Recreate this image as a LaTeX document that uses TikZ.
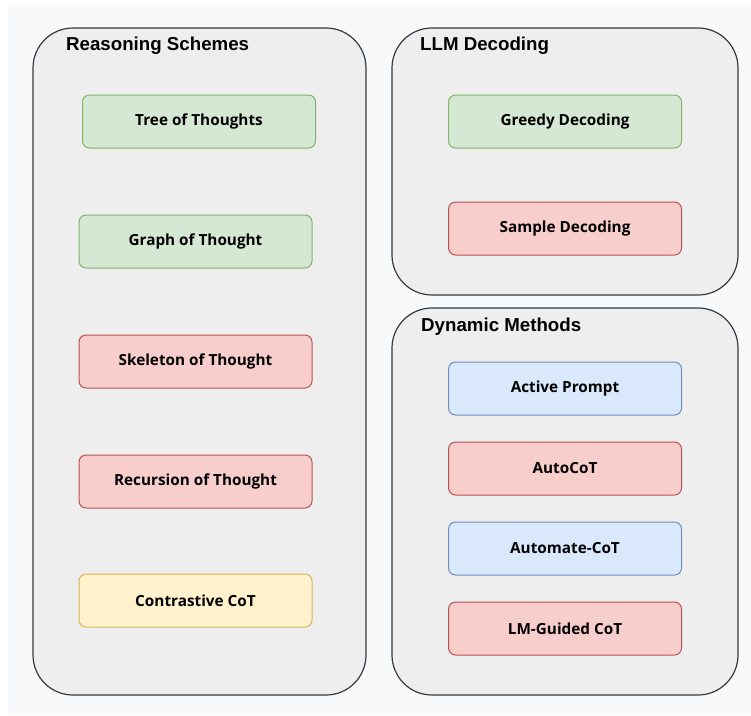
\documentclass[tikz,border=0pt]{standalone}
\usepackage{fontspec}
\setmainfont{Open Sans}
\newfontfamily\titlefont{Liberation Sans}
\usetikzlibrary{positioning}
\definecolor{bgcol}{HTML}{F8F9FB}
\definecolor{groupfill}{HTML}{EEEEEE}
\definecolor{groupline}{HTML}{36393D}
\definecolor{greenfill}{HTML}{D5E8D4}
\definecolor{greenline}{HTML}{82B366}
\definecolor{redfill}{HTML}{F8CECC}
\definecolor{redline}{HTML}{B85450}
\definecolor{yellowfill}{HTML}{FFF2CC}
\definecolor{yellowline}{HTML}{D6B656}
\definecolor{bluefill}{HTML}{DAE8FC}
\definecolor{blueline}{HTML}{6C8EBF}
\tikzset{
  group/.style={draw=groupline,fill=groupfill,line width=1.2pt,rounded corners=40pt},
  grouptitle/.style={anchor=west,font=\titlefont\fontsize{18.7}{21}\selectfont\bfseries,inner sep=0pt},
  method/.style={rectangle,rounded corners=7pt,line width=1pt,minimum width=233pt,minimum height=53pt,
    font=\fontsize{15.3}{18}\selectfont\bfseries,inner sep=0pt,outer sep=0pt},
  good/.style={method,fill=greenfill,draw=greenline},
  bad/.style={method,fill=redfill,draw=redline},
  mid/.style={method,fill=yellowfill,draw=yellowline},
  auto/.style={method,fill=bluefill,draw=blueline}
}
\begin{document}
\begin{tikzpicture}[x=1pt,y=-1pt]
    \useasboundingbox (0,0) rectangle (751,715);
    \fill[bgcol] (8,4) rectangle (751,715);
    % groups
    \draw[group] (33,28) rectangle (366,695);
    \draw[group] (392,28) rectangle (738,295);
    \draw[group] (392,308) rectangle (738,695);
    \node[grouptitle] (rs) at (66,46) {Reasoning Schemes};
    \node[grouptitle] (ld) at (420,46) {LLM Decoding};
    \node[grouptitle] (dm) at (421,327) {Dynamic Methods};
    % reasoning schemes
    \node[good] (tot) at (199,121.5) {Tree of Thoughts};
    \node[good] (got) at (195.5,241.5) {Graph of Thought};
    \node[bad,below=67pt of got] (sot) {Skeleton of Thought};
    \node[bad,below=67pt of sot] (rot) {Recursion of Thought};
    \node[mid,below=66pt of rot] (ccot) {Contrastive CoT};
    % decoding
    \node[good] (greedy) at (565,121.5) {Greedy Decoding};
    \node[bad,below=54pt of greedy] (sample) {Sample Decoding};
    % dynamic methods
    \node[auto] (active) at (565,388.5) {Active Prompt};
    \node[bad,below=27pt of active] (autocot) {AutoCoT};
    \node[auto,below=27pt of autocot] (automate) {Automate-CoT};
    \node[bad,below=27pt of automate] (lmg) {LM-Guided CoT};
\end{tikzpicture}
\end{document}
